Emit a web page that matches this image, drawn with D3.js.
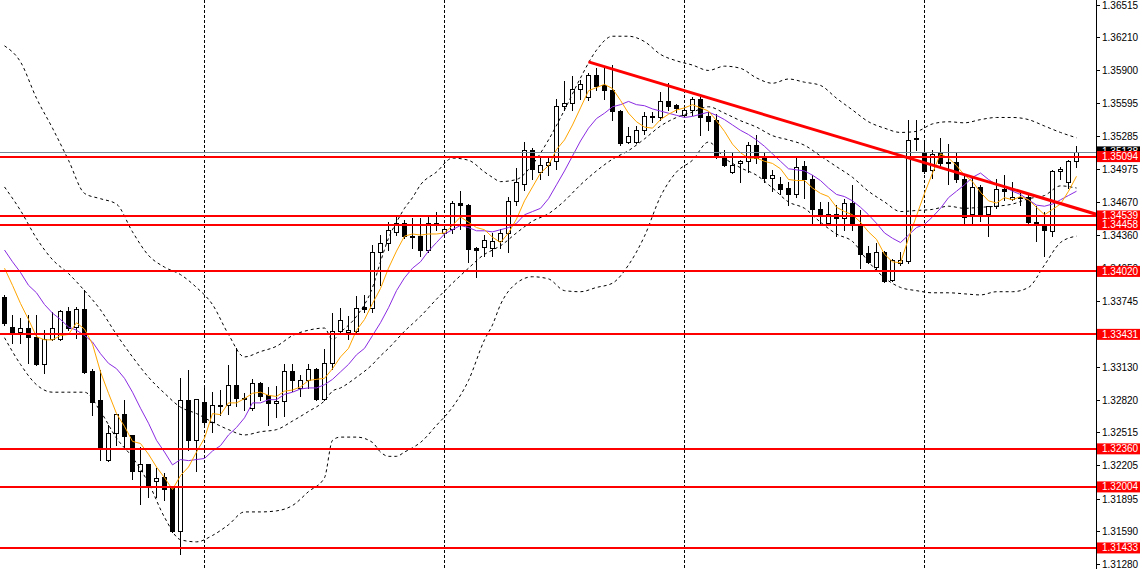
<!DOCTYPE html>
<html><head><meta charset="utf-8">
<script src="https://cdn.jsdelivr.net/npm/d3@7"></script>
<style>html,body{margin:0;padding:0;background:#fff;overflow:hidden}</style>
</head><body><svg id="c" width="1142" height="569"></svg>
<script>
// ---- data (prices) ----
const openP = [1.3378,1.3350,1.3345,1.3349,1.3341,1.3315,1.3339,1.3339,1.3365,1.3350,
1.3367,1.3309,1.3282,1.3226,1.3251,1.3269,1.3249,1.3215,1.3222,1.3206,
1.3210,1.3199,1.3159,1.3282,1.3244,1.3280,1.3261,1.3276,1.3277,1.3296,
1.3284,1.3274,1.3298,1.3286,1.3279,1.3281,1.3309,1.3293,1.3300,1.3311,
1.3283,1.3316,1.3346,1.3345,1.3346,1.3369,1.3368,1.3420,1.3429,1.3439,
1.3447,1.3435,1.3435,1.3422,1.3446,1.3438,1.3442,1.3466,1.3464,1.3424,
1.3425,1.3424,1.3430,1.3438,1.3468,1.3484,1.3516,1.3495,1.3502,1.3505,
1.3557,1.3560,1.3573,1.3565,1.3586,1.3576,1.3572,1.3552,1.3523,1.3523,
1.3534,1.3547,1.3546,1.3561,1.3558,1.3548,1.3553,1.3563,1.3547,1.3544,
1.3509,1.3495,1.3503,1.3505,1.3520,1.3508,1.3489,1.3484,1.3480,1.3474,
1.3501,1.3488,1.3460,1.3447,1.3456,1.3452,1.3466,1.3446,1.3419,1.3406,
1.3420,1.3394,1.3410,1.3412,1.3527,1.3513,1.3497,1.3513,1.3503,1.3504,
1.3488,1.3456,1.3481,1.3456,1.3463,1.3479,1.3470,1.3472,1.3472,1.3448,
1.3445,1.3440,1.3496,1.3486,1.3505];
const highP = [1.3380,1.3361,1.3358,1.3361,1.3361,1.3347,1.3364,1.3366,1.3369,1.3369,
1.3385,1.3311,1.3310,1.3258,1.3269,1.3282,1.3249,1.3238,1.3222,1.3218,
1.3213,1.3201,1.3302,1.3310,1.3283,1.3294,1.3289,1.3291,1.3314,1.3330,
1.3288,1.3301,1.3299,1.3294,1.3295,1.3315,1.3315,1.3305,1.3315,1.3312,
1.3329,1.3363,1.3368,1.3360,1.3379,1.3380,1.3427,1.3436,1.3448,1.3453,
1.3450,1.3452,1.3452,1.3453,1.3458,1.3445,1.3468,1.3477,1.3465,1.3425,
1.3436,1.3438,1.3442,1.3472,1.3499,1.3523,1.3517,1.3509,1.3509,1.3563,
1.3580,1.3585,1.3581,1.3588,1.3592,1.3592,1.3595,1.3553,1.3537,1.3538,
1.3551,1.3551,1.3570,1.3578,1.3559,1.3555,1.3565,1.3565,1.3551,1.3549,
1.3516,1.3513,1.3506,1.3523,1.3530,1.3514,1.3497,1.3490,1.3486,1.3509,
1.3505,1.3492,1.3467,1.3467,1.3464,1.3470,1.3483,1.3459,1.3426,1.3429,
1.3421,1.3414,1.3420,1.3544,1.3544,1.3525,1.3516,1.3527,1.3521,1.3513,
1.3491,1.3491,1.3483,1.3463,1.3488,1.3492,1.3486,1.3478,1.3474,1.3463,
1.3458,1.3497,1.3500,1.3506,1.3519];
const lowP = [1.3352,1.3335,1.3335,1.3316,1.3314,1.3307,1.3338,1.3338,1.3347,1.3340,
1.3307,1.3268,1.3226,1.3225,1.3240,1.3238,1.3208,1.3184,1.3191,1.3191,
1.3188,1.3158,1.3138,1.3235,1.3215,1.3258,1.3252,1.3268,1.3269,1.3276,
1.3272,1.3272,1.3282,1.3258,1.3266,1.3267,1.3290,1.3285,1.3293,1.3282,
1.3282,1.3311,1.3344,1.3339,1.3343,1.3364,1.3364,1.3389,1.3422,1.3436,
1.3433,1.3424,1.3416,1.3420,1.3441,1.3435,1.3438,1.3442,1.3411,1.3397,
1.3416,1.3416,1.3424,1.3420,1.3464,1.3478,1.3488,1.3488,1.3492,1.3498,
1.3553,1.3553,1.3563,1.3562,1.3572,1.3563,1.3544,1.3520,1.3522,1.3522,
1.3531,1.3542,1.3544,1.3553,1.3551,1.3547,1.3548,1.3530,1.3534,1.3508,
1.3501,1.3494,1.3486,1.3495,1.3503,1.3486,1.3477,1.3474,1.3464,1.3472,
1.3471,1.3447,1.3447,1.3445,1.3435,1.3441,1.3441,1.3405,1.3410,1.3403,
1.3392,1.3393,1.3408,1.3410,1.3516,1.3494,1.3489,1.3499,1.3484,1.3486,
1.3447,1.3446,1.3449,1.3435,1.3461,1.3469,1.3469,1.3464,1.3445,1.3430,
1.3416,1.3435,1.3488,1.3480,1.3500];
const closeP = [1.3354,1.3345,1.3349,1.3341,1.3315,1.3339,1.3349,1.3365,1.3349,1.3367,
1.3308,1.3280,1.3236,1.3251,1.3269,1.3248,1.3215,1.3222,1.3202,1.3209,
1.3198,1.3159,1.3282,1.3244,1.3283,1.3261,1.3277,1.3277,1.3296,1.3284,
1.3283,1.3298,1.3285,1.3279,1.3281,1.3309,1.3300,1.3300,1.3311,1.3283,
1.3316,1.3346,1.3357,1.3347,1.3368,1.3367,1.3420,1.3429,1.3441,1.3447,
1.3435,1.3434,1.3422,1.3447,1.3447,1.3442,1.3466,1.3464,1.3423,1.3422,
1.3431,1.3430,1.3438,1.3468,1.3486,1.3516,1.3498,1.3502,1.3504,1.3557,
1.3560,1.3573,1.3577,1.3586,1.3575,1.3572,1.3552,1.3522,1.3529,1.3534,
1.3547,1.3546,1.3561,1.3557,1.3555,1.3553,1.3563,1.3546,1.3543,1.3509,
1.3502,1.3502,1.3505,1.3520,1.3508,1.3489,1.3492,1.3479,1.3474,1.3500,
1.3488,1.3460,1.3455,1.3456,1.3452,1.3466,1.3446,1.3418,1.3411,1.3420,
1.3393,1.3413,1.3413,1.3525,1.3526,1.3496,1.3512,1.3503,1.3504,1.3488,
1.3453,1.3481,1.3456,1.3463,1.3479,1.3477,1.3472,1.3471,1.3448,1.3445,
1.3441,1.3496,1.3498,1.3505,1.35138];

// fast moving average (orange), one value per bar
const maFast = [1.3405,1.3389,1.3372,1.3357,1.3341,1.3338,1.3338,1.3342,1.3343,1.3354,
1.3348,1.3334,1.3308,1.3288,1.3269,1.3257,1.3243,1.3241,1.3231,1.3219,
1.3209,1.3198,1.3211,1.3219,1.3233,1.3246,1.3269,1.3268,1.3279,1.3279,
1.3283,1.3288,1.3289,1.3286,1.3285,1.3290,1.3291,1.3294,1.3300,1.3301,
1.3302,1.3311,1.3322,1.3330,1.3347,1.3357,1.3372,1.3386,1.3405,1.3421,
1.3435,1.3437,1.3436,1.3437,1.3437,1.3438,1.3445,1.3453,1.3448,1.3443,
1.3441,1.3434,1.3429,1.3438,1.3451,1.3468,1.3481,1.3494,1.3501,1.3516,
1.3525,1.3539,1.3555,1.3571,1.3574,1.3577,1.3573,1.3562,1.3550,1.3542,
1.3537,1.3536,1.3544,1.3549,1.3553,1.3555,1.3558,1.3555,1.3552,1.3543,
1.3533,1.3521,1.3513,1.3508,1.3508,1.3505,1.3503,1.3498,1.3488,1.3487,
1.3487,1.3480,1.3475,1.3472,1.3462,1.3458,1.3455,1.3448,1.3439,1.3432,
1.3418,1.3411,1.3410,1.3433,1.3454,1.3475,1.3494,1.3512,1.3508,1.3501,
1.3492,1.3486,1.3476,1.3468,1.3466,1.3471,1.3469,1.3472,1.3469,1.3462,
1.3455,1.3460,1.3465,1.3477,1.3491];
// slow moving average (purple), one value per bar
const maSlow = [1.3422,1.3411,1.3401,1.3389,1.3382,1.3371,1.3363,1.3357,1.3350,1.3347,
1.3342,1.3336,1.3325,1.3316,1.3311,1.3302,1.3289,1.3274,1.3260,1.3244,
1.3233,1.3221,1.3226,1.3225,1.3226,1.3227,1.3234,1.3239,1.3249,1.3256,
1.3265,1.3279,1.3279,1.3282,1.3282,1.3287,1.3289,1.3292,1.3293,1.3293,
1.3296,1.3301,1.3308,1.3315,1.3324,1.3330,1.3342,1.3354,1.3368,1.3384,
1.3396,1.3405,1.3411,1.3421,1.3429,1.3437,1.3441,1.3445,1.3443,1.3440,
1.3440,1.3439,1.3441,1.3443,1.3447,1.3455,1.3458,1.3461,1.3470,1.3483,
1.3496,1.3510,1.3524,1.3536,1.3545,1.3550,1.3556,1.3558,1.3561,1.3558,
1.3557,1.3554,1.3552,1.3550,1.3548,1.3546,1.3547,1.3549,1.3551,1.3548,
1.3544,1.3539,1.3534,1.3530,1.3525,1.3519,1.3512,1.3505,1.3498,1.3497,
1.3496,1.3492,1.3487,1.3480,1.3474,1.3472,1.3468,1.3462,1.3455,1.3447,
1.3438,1.3433,1.3429,1.3436,1.3443,1.3446,1.3453,1.3461,1.3471,1.3477,
1.3483,1.3490,1.3494,1.3488,1.3483,1.3481,1.3477,1.3474,1.3469,1.3464,
1.3463,1.3465,1.3469,1.3473,1.3477];

// Bollinger bands, read at these bar indices
const bandIdx = [0,2,4,6,8,10,12,14,16,18,20,22,24,26,28,30,32,34,36,38,40,41,42,44,46,47,48,49,50,51,52,54,56,58,60,61,62,64,66,68,70,72,74,76,78,80,82,84,86,88,90,92,94,96,98,100,102,104,106,108,110,112,114,116,118,120,122,124,126,128,130,132,134];
const bandUpper = [1.3613,1.3598,1.3564,1.3536,1.3506,1.3475,1.3470,1.3465,1.3439,1.3417,1.3406,1.3399,1.3387,1.3371,1.3343,1.3322,1.3327,1.3332,1.3342,1.3347,1.3349,1.3338,1.3345,1.3360,1.3387,1.3411,1.3433,1.3448,1.3461,1.3471,1.3483,1.3495,1.3508,1.3506,1.3495,1.3490,1.3486,1.3488,1.3502,1.3525,1.3553,1.3583,1.3609,1.3622,1.3622,1.3617,1.3605,1.3599,1.3595,1.3590,1.3594,1.3592,1.3583,1.3578,1.3582,1.3579,1.3576,1.3564,1.3553,1.3542,1.3536,1.3532,1.3533,1.3540,1.3542,1.3541,1.3544,1.3546,1.3546,1.3544,1.3538,1.3532,1.3527];
const bandMiddle = [1.3481,1.3459,1.3433,1.3413,1.3400,1.3384,1.3366,1.3343,1.3322,1.3303,1.3288,1.3275,1.3269,1.3261,1.3254,1.3249,1.3252,1.3254,1.3262,1.3271,1.3281,1.3290,1.3293,1.3303,1.3315,1.3323,1.3330,1.3338,1.3346,1.3353,1.3360,1.3376,1.3391,1.3405,1.3418,1.3422,1.3426,1.3438,1.3449,1.3456,1.3468,1.3483,1.3496,1.3507,1.3515,1.3526,1.3538,1.3546,1.3551,1.3556,1.3550,1.3543,1.3537,1.3529,1.3525,1.3520,1.3510,1.3500,1.3490,1.3477,1.3467,1.3458,1.3459,1.3460,1.3463,1.3461,1.3462,1.3463,1.3465,1.3470,1.3473,1.3482,1.3480];
const bandLower = [1.3340,1.3315,1.3296,1.3289,1.3289,1.3289,1.3271,1.3246,1.3228,1.3204,1.3172,1.3151,1.3149,1.3155,1.3165,1.3177,1.3177,1.3178,1.3183,1.3196,1.3209,1.3244,1.3247,1.3247,1.3242,1.3233,1.3229,1.3229,1.3233,1.3237,1.3242,1.3258,1.3275,1.3300,1.3338,1.3352,1.3371,1.3391,1.3397,1.3395,1.3384,1.3383,1.3387,1.3391,1.3408,1.3435,1.3472,1.3495,1.3506,1.3523,1.3508,1.3499,1.3492,1.3480,1.3467,1.3461,1.3448,1.3437,1.3430,1.3411,1.3396,1.3387,1.3384,1.3382,1.3382,1.3381,1.3380,1.3383,1.3383,1.3387,1.3408,1.3429,1.3435];

// horizontal support / resistance levels
const levels = [1.35094,1.34539,1.34458,1.34020,1.33431,1.32360,1.32004,1.31433];
// price axis tick labels
const tickValues = [1.36515,1.36210,1.35900,1.35595,1.35285,1.34975,1.34670,1.34360,1.34050,1.33745,1.33435,1.33130,1.32820,1.32515,1.32205,1.31895,1.31590,1.31280];
// vertical separators (bar index)
const gridBars = [25,55,85,115];
// descending trend line anchors (bar index, price)
const trendBars = [73,134];
const trendPrices = [1.3598,1.3461];

// ---- drawing ----
const W = 1142, H = 569, plotR = 1096;
const svg = d3.select('#c');
const x = d3.scaleLinear().domain([0, 134]).range([4.5, 1076.5]);
const y = d3.scaleLinear().domain([1.31280, 1.36515]).range([564.3, 4.7]);

svg.append('defs').append('clipPath').attr('id','pc')
  .append('rect').attr('x',0).attr('y',0).attr('width',plotR).attr('height',H);
const g = svg.append('g').attr('clip-path','url(#pc)');

// grid separators
g.selectAll('.vg').data(gridBars).enter().append('line')
  .attr('x1',d=>x(d)).attr('x2',d=>x(d)).attr('y1',0).attr('y2',H)
  .attr('stroke','#000').attr('stroke-width',1).attr('stroke-dasharray','3,2');

// candles
const bars = d3.range(openP.length).map(i=>({i,o:openP[i],h:highP[i],l:lowP[i],c:closeP[i]}));
const cg = g.append('g');
bars.forEach(b=>{
  const cx = x(b.i);
  cg.append('line').attr('x1',cx).attr('x2',cx)
    .attr('y1',Math.round(y(b.h))).attr('y2',Math.round(y(b.l))+1)
    .attr('stroke','#000').attr('stroke-width',1);
  const top = Math.round(y(Math.max(b.o,b.c)));
  const bot = Math.round(y(Math.min(b.o,b.c)));
  const up = b.c >= b.o;
  if (bot - top < 1) {
    cg.append('line').attr('x1',cx-2.5).attr('x2',cx+2.5)
      .attr('y1',top+0.5).attr('y2',top+0.5).attr('stroke','#000').attr('stroke-width',1);
  } else {
    cg.append('rect').attr('x',cx-2).attr('width',4)
      .attr('y',top+0.5).attr('height',bot-top)
      .attr('fill',up?'#fff':'#000').attr('stroke','#000').attr('stroke-width',1);
  }
});

// bollinger bands
const bandLine = d3.line().x(d=>x(d[0])).y(d=>y(d[1])).curve(d3.curveMonotoneX);
[bandUpper, bandMiddle, bandLower].forEach(arr=>{
  g.append('path').datum(bandIdx.map((bi,k)=>[bi,arr[k]]))
    .attr('d',bandLine).attr('fill','none').attr('stroke','#000')
    .attr('stroke-width',1).attr('stroke-dasharray','3,3');
});

// moving averages
const maLine = d3.line().x((d,i)=>x(i)).y(d=>y(d));
g.append('path').datum(maSlow).attr('d',maLine).attr('fill','none')
  .attr('stroke','#8a2be2').attr('stroke-width',1);
g.append('path').datum(maFast).attr('d',maLine).attr('fill','none')
  .attr('stroke','#ffa500').attr('stroke-width',1);

// current price line
const last = closeP[closeP.length-1];
g.append('line').attr('x1',0).attr('x2',plotR)
  .attr('y1',Math.round(y(last))+0.5).attr('y2',Math.round(y(last))+0.5)
  .attr('stroke','#778899').attr('stroke-width',1);

// horizontal levels
g.selectAll('.lv').data(levels).enter().append('line')
  .attr('x1',0).attr('x2',plotR).attr('y1',d=>Math.round(y(d))).attr('y2',d=>Math.round(y(d)))
  .attr('stroke','#ff0000').attr('stroke-width',2);

// trend line (ray to the right edge)
const slope = (trendPrices[1]-trendPrices[0])/(trendBars[1]-trendBars[0]);
const endBar = x.invert(plotR);
g.append('line')
  .attr('x1',x(trendBars[0])).attr('y1',y(trendPrices[0]))
  .attr('x2',x(endBar)).attr('y2',y(trendPrices[0]+slope*(endBar-trendBars[0])))
  .attr('stroke','#ff0000').attr('stroke-width',3);

// right price axis
const ax = svg.append('g');
ax.append('line').attr('x1',plotR+0.5).attr('x2',plotR+0.5).attr('y1',0).attr('y2',H)
  .attr('stroke','#000').attr('stroke-width',1);
const fmt = d3.format('.5f');
tickValues.forEach(v=>{
  const yy = Math.round(y(v))+0.5;
  ax.append('line').attr('x1',plotR).attr('x2',plotR+4).attr('y1',yy).attr('y2',yy)
    .attr('stroke','#000');
  ax.append('text').attr('x',plotR+6).attr('y',yy).attr('dy','0.35em')
    .attr('font-family','Liberation Sans, Arial, sans-serif').attr('font-size',10)
    .attr('fill','#000').text(fmt(v));
});
function tag(v, color){
  const yy = y(v);
  ax.append('rect').attr('x',plotR+1).attr('y',yy-5.5).attr('width',43).attr('height',11)
    .attr('fill',color);
  ax.append('text').attr('x',plotR+6).attr('y',yy).attr('dy','0.35em')
    .attr('font-family','Liberation Sans, Arial, sans-serif').attr('font-size',10)
    .attr('fill','#fff').text(fmt(v));
}
tag(last,'#000');
levels.forEach(v=>tag(v,'#ff0000'));
</script></body></html>
